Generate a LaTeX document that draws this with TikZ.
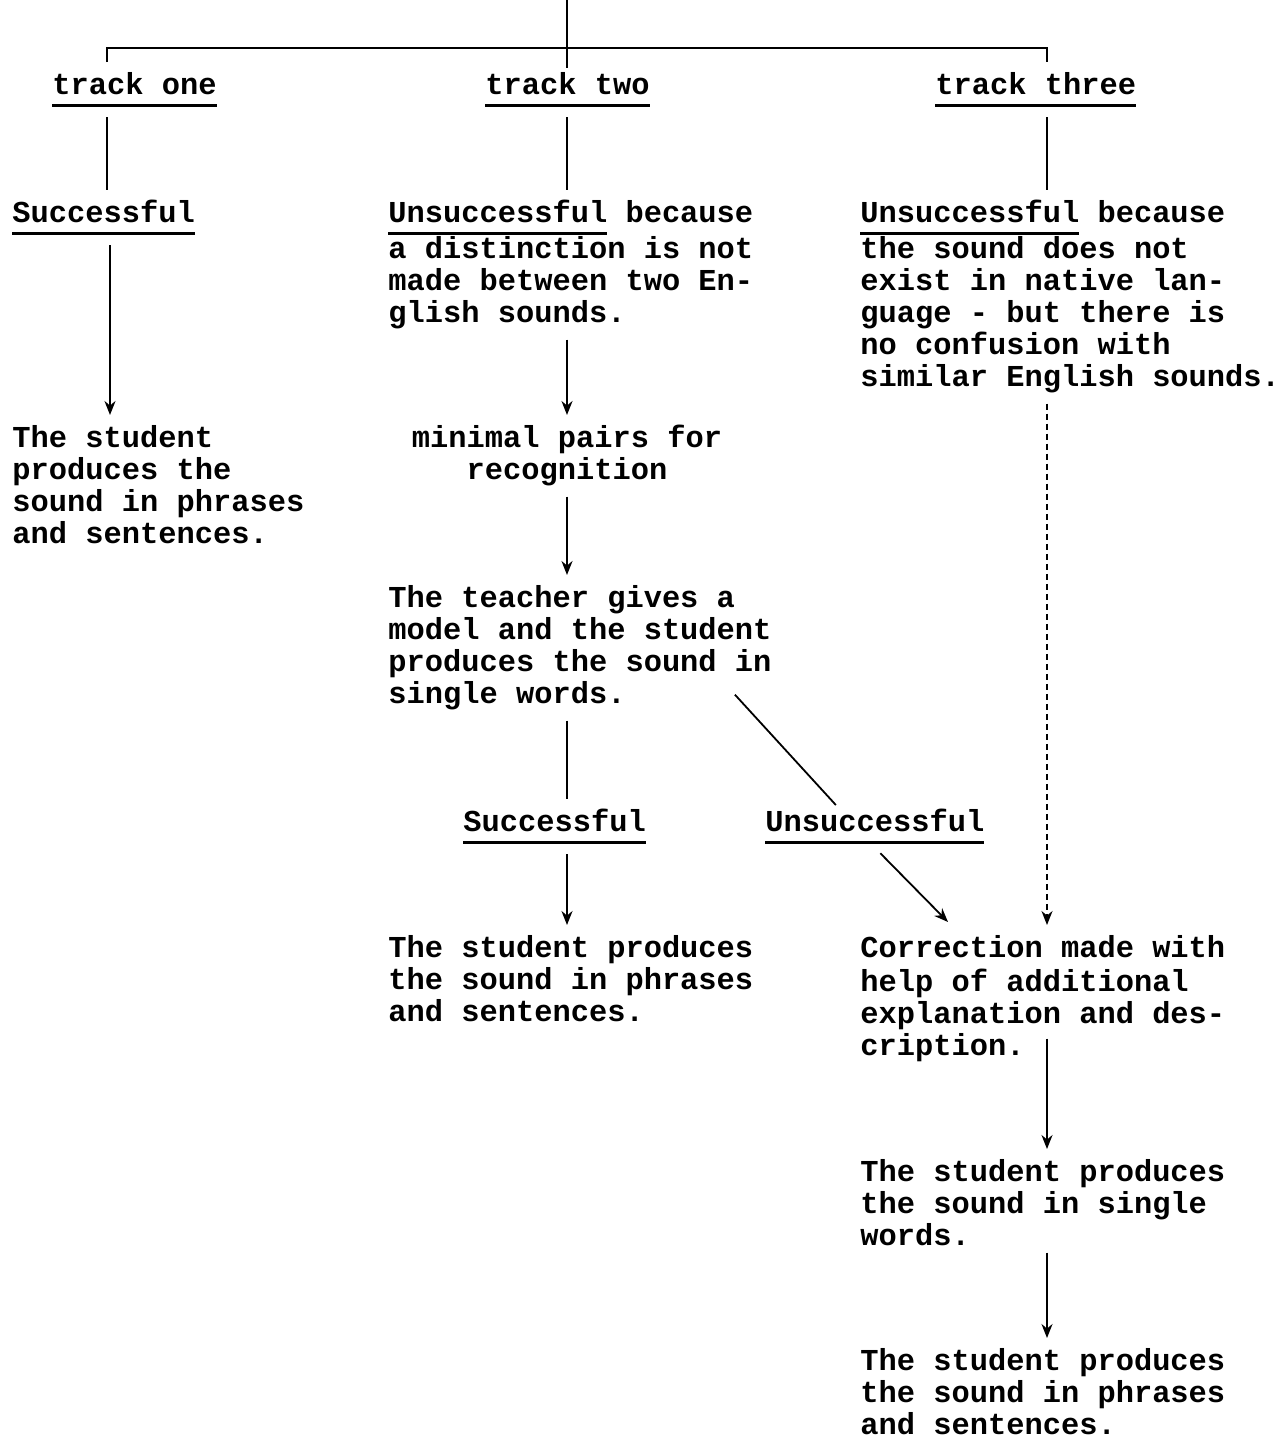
\documentclass[tikz,border=0pt]{standalone}
\usepackage{fontspec}
\setmonofont{Liberation Mono}
\usetikzlibrary{arrows.meta,calc}
\newcommand\tul[1]{\setbox0\hbox{#1}\rlap{\rule[-6pt]{\wd0}{1.5pt}}#1}

\begin{document}
\begin{tikzpicture}[x=0.5pt,y=-0.5pt,
  txt/.style={anchor=north west,inner sep=0pt,align=left,
    font=\ttfamily\bfseries\fontsize{15.2}{16}\selectfont},
  link/.style={line width=0.9pt,shorten <=5pt,shorten >=5pt},
  arr/.style={link,-{Stealth[length=7pt,width=5.5pt]}},
  diag/.style={line width=0.9pt}]
\useasboundingbox (0,0) rectangle (1288,1440);

\coordinate (top) at (567,0);
\coordinate (bar) at (567,48);
\coordinate (colA) at (107,0);
\coordinate (colB) at (567,0);
\coordinate (colC) at (1047,0);

\node[txt] (t1) at (52,72) {\strut\tul{track one}};
\node[txt] (t2) at (485,72) {\strut\tul{track two}};
\node[txt] (t3) at (935,72) {\strut\tul{track three}};

% track one
\node[txt] (s1) at (12,200) {\strut\tul{Successful}};
\node[txt] (r1) at (12,425) {\strut The student\\produces the\\sound in phrases\\and sentences.};

% track two
\node[txt] (u2) at (388,200) {\strut\tul{Unsuccessful} because\\a distinction is not\\made between two En-\\glish sounds.};
\node[txt,anchor=north,align=center] (m2) at (567,425) {\strut minimal pairs for\\recognition};
\node[txt] (g2) at (388,585) {\strut The teacher gives a\\model and the student\\produces the sound in\\single words.};
\node[txt] (s2) at (463,809) {\strut\tul{Successful}};
\node[txt] (n2) at (765,809) {\strut\tul{Unsuccessful}};
\node[txt] (r2) at (388,935) {\strut The student produces\\the sound in phrases\\and sentences.};

% track three
\node[txt] (u3) at (860,200) {\strut\tul{Unsuccessful} because\\the sound does not\\exist in native lan-\\guage - but there is\\no confusion with\\similar English sounds.};
\node[txt] (c3) at (860,935) {\strut Correction made with\\help of additional\\explanation and des-\\cription.};
\node[txt] (w3) at (860,1159) {\strut The student produces\\the sound in single\\words.};
\node[txt] (p3) at (860,1348) {\strut The student produces\\the sound in phrases\\and sentences.};

% branching
\draw[line width=0.9pt,shorten >=2pt] (top) -- (colB |- t2.north);
\draw[line width=0.9pt] ([yshift=5pt]colA |- t1.north) |- (bar) -| ([yshift=5pt]colC |- t3.north);

\draw[link] (colA |- t1.south) -- (colA |- s1.north);
\draw[arr] ([xshift=1.5pt]colA |- s1.south) -- ([xshift=1.5pt]colA |- r1.north);

\draw[link] (colB |- t2.south) -- (colB |- u2.north);
\draw[arr] (colB |- u2.south) -- (colB |- m2.north);
\draw[arr] (colB |- m2.south) -- (colB |- g2.north);
\draw[link] (colB |- g2.south) -- (colB |- s2.north);
\draw[arr] (colB |- s2.south) -- (colB |- r2.north);
\draw[diag] ($(g2.south east)+(-37,-16)$) -- ($(n2.north)+(-39,-4)$);
\draw[diag,-{Stealth[length=7pt,width=5.5pt]}] ($(n2.south)+(5.5,9)$) -- ($(c3.north west)+(88,-13)$);

\draw[link] (colC |- t3.south) -- (colC |- u3.north);
\draw[arr,densely dashed] (colC |- u3.south) -- (colC |- c3.north);
\draw[arr] ([yshift=17pt]colC |- c3.south) -- (colC |- w3.north);
\draw[arr] ([yshift=2pt]colC |- w3.south) -- (colC |- p3.north);
\end{tikzpicture}
\end{document}
